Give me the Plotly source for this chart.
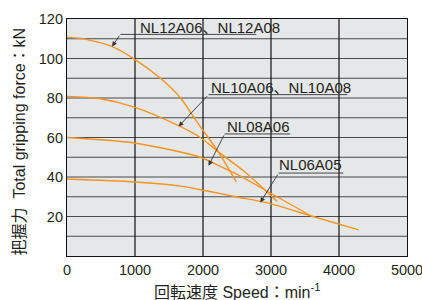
import plotly.graph_objects as go

# ---- data ----
nl12_speed = [0, 200, 660, 990, 1370, 1670, 1860, 1960, 2230, 2490]
nl12_force = [110.7, 110.2, 106.1, 99.7, 90.1, 80.0, 70.5, 65.5, 52.5, 37.5]

nl10_speed = [0, 490, 990, 1640, 1960, 2230, 2600, 3090]
nl10_force = [80.8, 79.6, 75.4, 66.0, 60.0, 52.6, 43.0, 27.6]

nl08_speed = [0, 990, 1960, 2300, 2550, 2990, 3580]
nl08_force = [60.0, 57.2, 50.0, 44.6, 40.5, 31.9, 20.5]

nl06_speed = [0, 1000, 1670, 2120, 2500, 2990, 3580, 4290]
nl06_force = [39.0, 37.5, 35.4, 32.5, 29.9, 26.5, 20.4, 13.2]

x_ticks = [0, 1000, 2000, 3000, 4000, 5000]
y_ticks = [20, 40, 60, 80, 100, 120]

# label: text, text-left x, text y, underline y, underline x0, underline x1, arrow tip x, tip y
labels = [
    ("NL12A06、NL12A08", 1040, 115.6, 112.2, 785, 2784, 662, 106.1),
    ("NL10A06、NL10A08", 2090, 85.2, 81.7, 2082, 4122, 1641, 65.6),
    ("NL08A06", 2330, 65.6, 61.8, 2318, 3284, 2082, 45.7),
    ("NL06A05", 3090, 46.2, 42.0, 3112, 4063, 2843, 27.1),
]

ORANGE = "#F7931E"
TXT = "#231f20"
FONT = "Arial, 'Liberation Sans', 'Noto Sans CJK JP', sans-serif"

fig = go.Figure()
for xs, ys in [(nl12_speed, nl12_force), (nl10_speed, nl10_force),
               (nl08_speed, nl08_force), (nl06_speed, nl06_force)]:
    fig.add_trace(go.Scatter(x=xs, y=ys, mode="lines",
                             line=dict(color=ORANGE, width=1.4, shape="spline", smoothing=0.8),
                             showlegend=False, hoverinfo="skip"))

shapes = []
# horizontal grid lines every 10
for v in range(10, 120, 10):
    shapes.append(dict(type="line", xref="paper", yref="y", x0=0, x1=1, y0=v, y1=v,
                       line=dict(color="#4a4a4a", width=1.2), layer="below"))
# vertical grid lines
for v in x_ticks[1:-1]:
    shapes.append(dict(type="line", xref="x", yref="paper", x0=v, x1=v, y0=0, y1=1,
                       line=dict(color="#111111", width=1.2), layer="below"))

annotations = []
for text, tx, ty, uy, ux0, ux1, px, py in labels:
    annotations.append(dict(x=tx, y=ty, xref="x", yref="y", text=text, showarrow=False,
                            xanchor="left", yanchor="middle",
                            font=dict(family=FONT, size=15, color=TXT)))
    shapes.append(dict(type="line", xref="x", yref="y", x0=ux0, x1=ux1, y0=uy, y1=uy,
                       line=dict(color="#333333", width=0.9)))
    annotations.append(dict(x=px, y=py, xref="x", yref="y", ax=ux0, ay=uy,
                            axref="x", ayref="y", text="", showarrow=True,
                            arrowhead=2, arrowsize=1.1, arrowwidth=0.9, arrowcolor="#333333"))

annotations.append(dict(x=0.5, y=-0.148, xref="paper", yref="paper",
                        text="回転速度 Speed：min<sup>-1</sup>", showarrow=False,
                        xanchor="center", yanchor="middle",
                        font=dict(family=FONT, size=16, color=TXT)))
annotations.append(dict(x=-0.14, y=0.485, xref="paper", yref="paper",
                        text="把握力  Total gripping force：kN", showarrow=False,
                        textangle=-90, xanchor="center", yanchor="middle",
                        font=dict(family=FONT, size=16, color=TXT)))

fig.update_layout(
    width=422, height=300,
    margin=dict(l=67, r=15, t=19, b=44, autoexpand=False),
    paper_bgcolor="white", plot_bgcolor="#e6e7e8",
    shapes=shapes, annotations=annotations,
    font=dict(family=FONT, size=14, color=TXT),
)
fig.update_xaxes(range=[0, 5000], tickvals=x_ticks, showgrid=False, zeroline=False,
                 showline=True, linecolor="#111111", linewidth=1.2, mirror=True,
                 ticks="", tickfont=dict(size=14.5), fixedrange=True, automargin=False,
                 ticklabeloverflow="allow")
fig.update_yaxes(range=[0, 120], tickvals=y_ticks, showgrid=False, zeroline=False,
                 showline=True, linecolor="#111111", linewidth=1.2, mirror=True,
                 ticks="", tickfont=dict(size=14.5), fixedrange=True, automargin=False,
                 ticklabeloverflow="allow")

fig.write_html("out.html", config={"displayModeBar": False},
               post_script="document.body.style.margin='0';document.body.style.padding='0';")
